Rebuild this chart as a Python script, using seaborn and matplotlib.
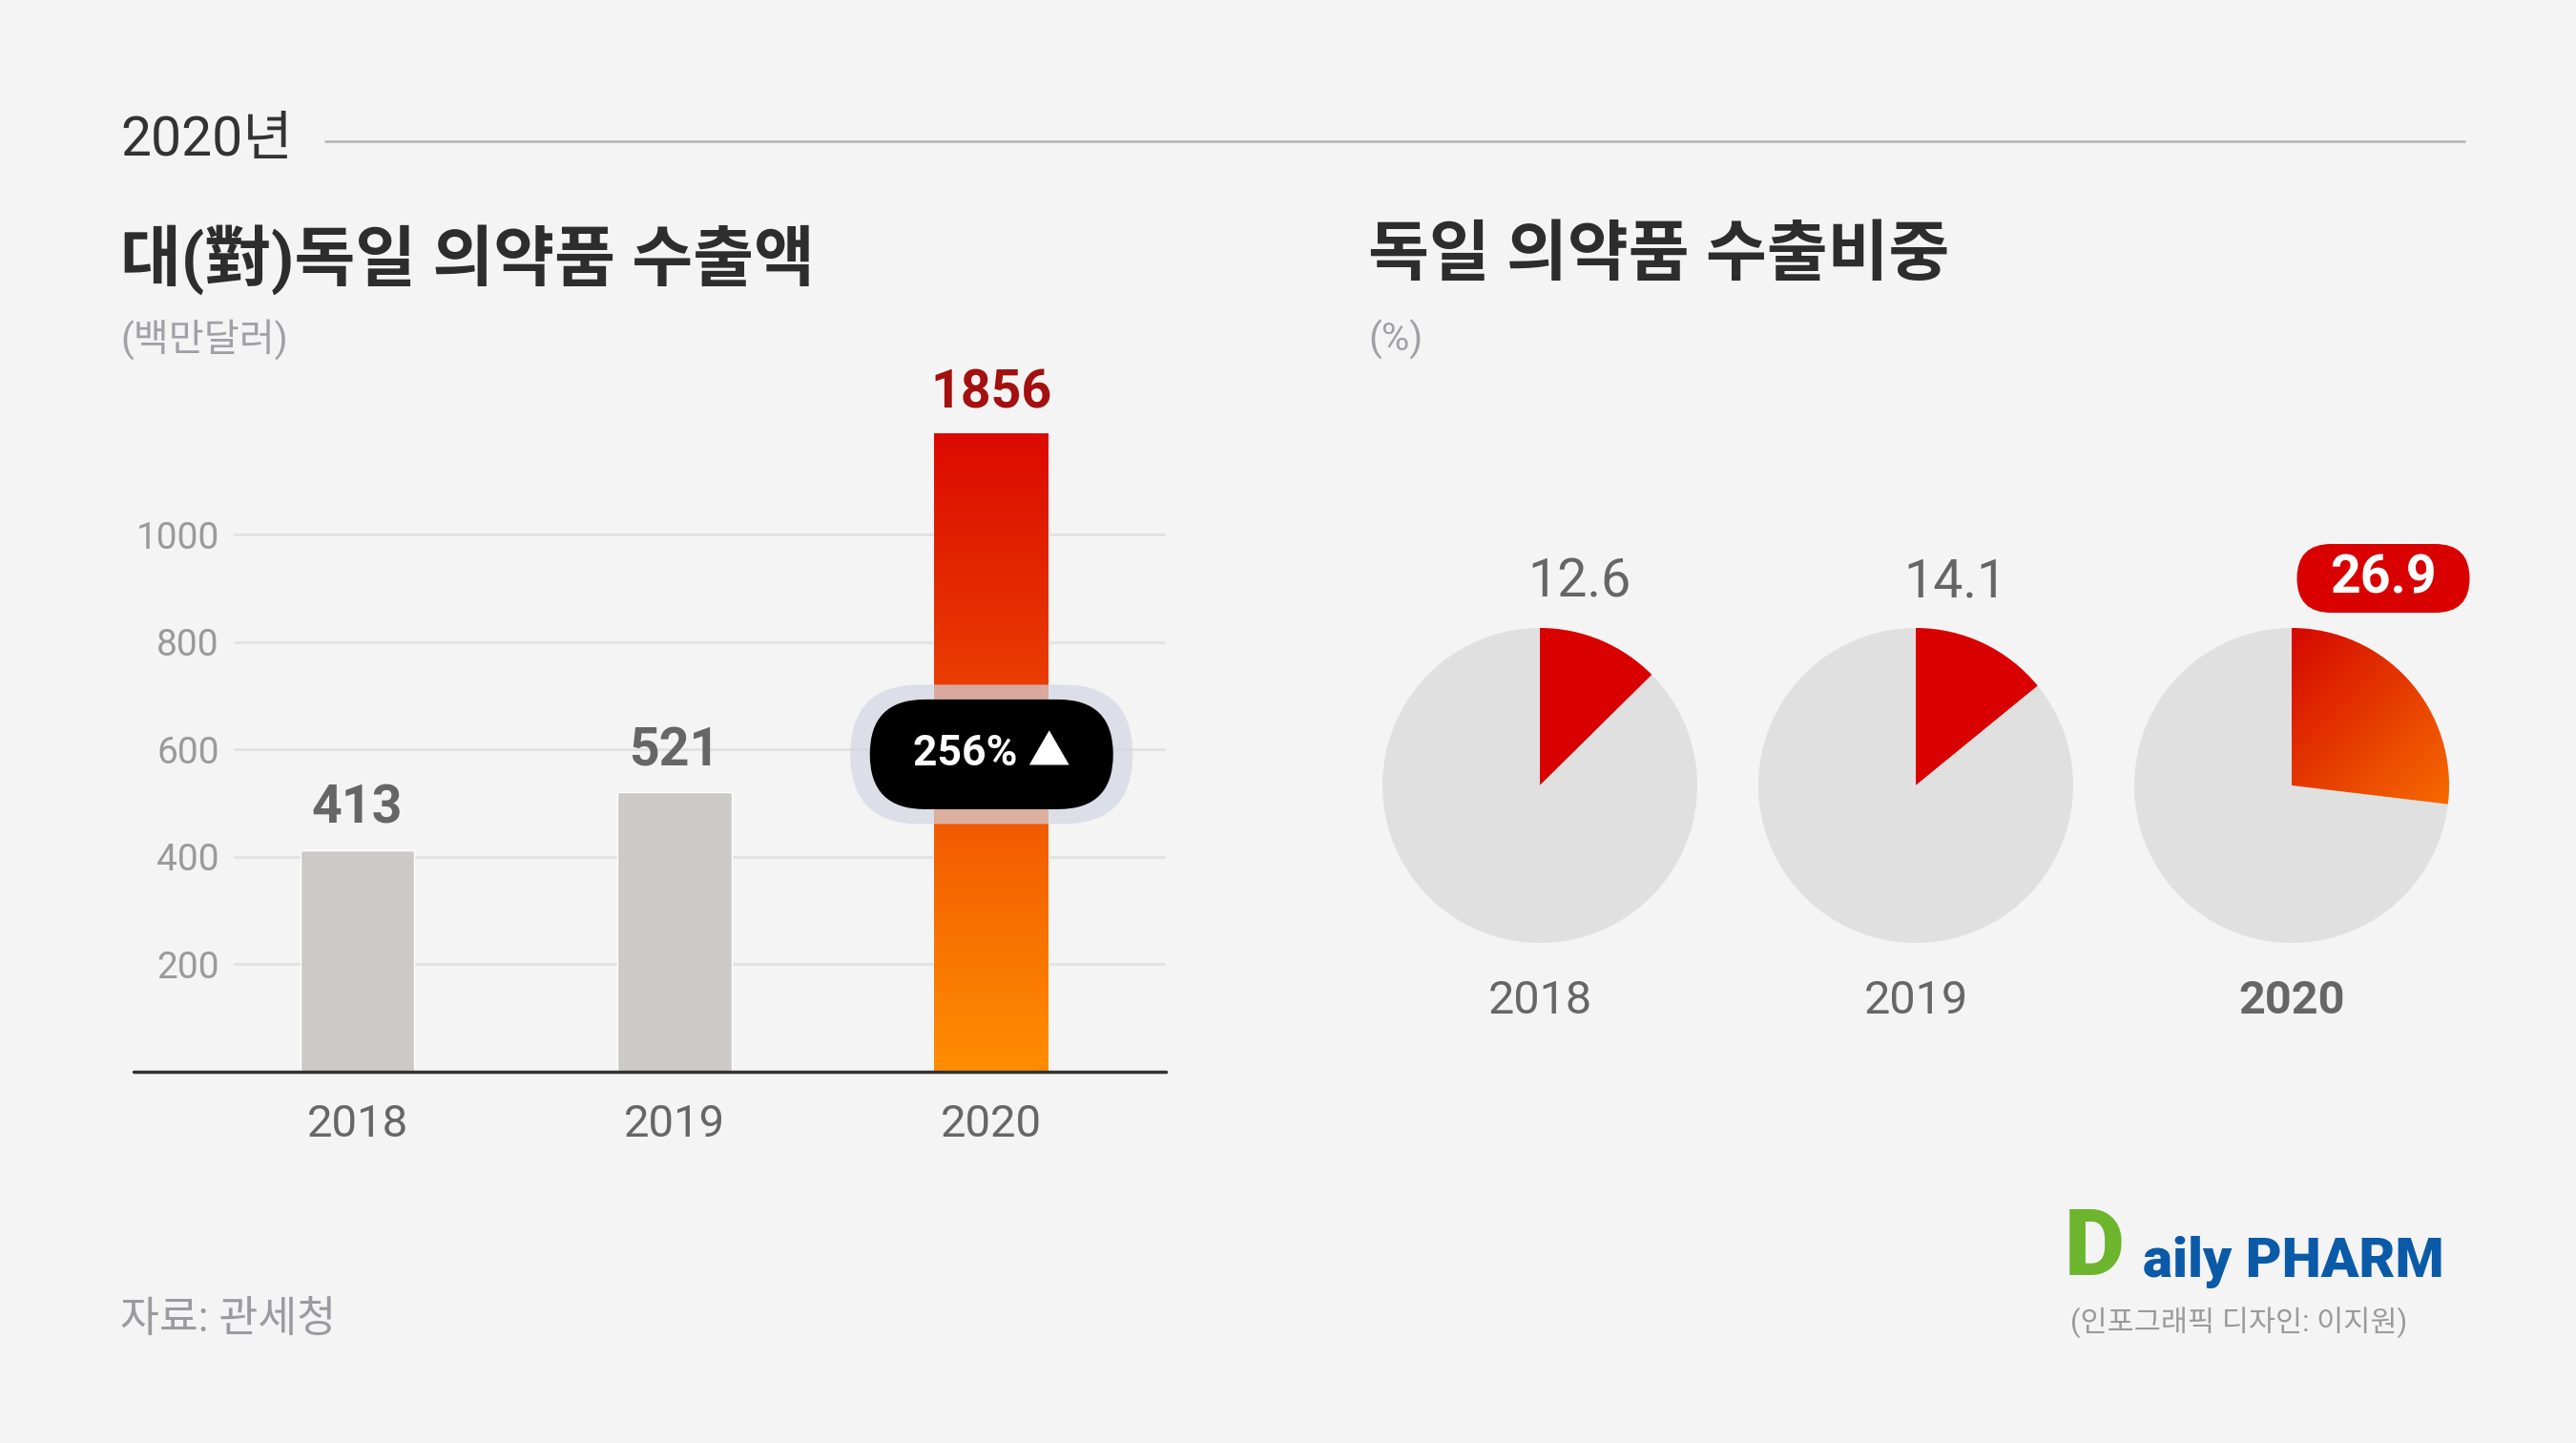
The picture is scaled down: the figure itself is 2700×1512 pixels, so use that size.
import matplotlib
matplotlib.use('Agg')
import matplotlib.pyplot as plt
import matplotlib.patches as mpatches
from matplotlib.lines import Line2D
from matplotlib.transforms import IdentityTransform
from matplotlib.colors import LinearSegmentedColormap
import seaborn as sns
import numpy as np
import pandas as pd

# data
years = ['2018', '2019', '2020']
export_musd = [413, 521, 1856]
share_pct = [12.6, 14.1, 26.9]
growth_label = '256% ▲'
yticks = [200, 400, 600, 800, 1000]

W, H = 2700, 1512
BG = '#f4f4f4'
GRAY_BAR = '#cbcac7'
RED = '#d90000'
hot = LinearSegmentedColormap.from_list('hot2', ['#dc0a00', '#ff8e00'])

sns.set_theme(style='white')
plt.rcParams['font.family'] = ['Roboto', 'Noto Sans CJK KR', 'DejaVu Sans']

fig = plt.figure(figsize=(27, 15.12), dpi=100, facecolor=BG)


def ftext(x, y, s, **kw):
    # x, y in pixels from top-left
    return fig.text(x / W, 1 - y / H, s, **kw)


def pill(cx, cy, w, h, color, alpha=1.0, z=5):
    # cx, cy in display pixels (origin bottom-left)
    p = mpatches.FancyBboxPatch((cx - w / 2, cy - h / 2), w, h,
                                boxstyle=f'round,pad=0,rounding_size={h / 2}',
                                transform=IdentityTransform(), facecolor=color,
                                edgecolor='none', alpha=alpha, zorder=z)
    fig.add_artist(p)


# header
ftext(126, 148, '2020년', fontsize=41, color='#333333', va='center')
fig.add_artist(Line2D([341 / W, 2583 / W], [1 - 148 / H] * 2, color='#b8b8b8', lw=2))

ftext(126, 272, '대(對)독일 의약품 수출액', fontsize=50, fontweight='bold', color='#2d2d2d', va='center')
ftext(126, 356, '(백만달러)', fontsize=29, color='#a0a0a6', va='center')
ftext(1434, 270, '독일 의약품 수출비중', fontsize=50, fontweight='bold', color='#2d2d2d', va='center')
ftext(1434, 356, '(%)', fontsize=29, color='#a0a0a6', va='center')

# bar chart
ax = fig.add_axes([245 / W, 1 - 1123 / H, (1222 - 245) / W, (1123 - 455) / H])
ax.set_facecolor('none')
df = pd.DataFrame({'year': years, 'value': export_musd})
sns.barplot(data=df, x='year', y='value', hue='year',
            palette=[GRAY_BAR, GRAY_BAR, '#e03000'], width=0.36,
            saturation=1, legend=False, ax=ax, zorder=2)
ax.set_xlim(-0.39, 2.55)
ax.set_ylim(0, 1187)
for y in yticks:
    ax.axhline(y, color='#e2e2e2', lw=2, zorder=0)
ax.axhline(0, xmin=(140 - 245) / 977, xmax=1, color='#333333', lw=2.5, clip_on=False, zorder=3)
ax.set_yticks(yticks)
ax.set_yticklabels([str(t) for t in yticks])
ax.tick_params(axis='y', length=0, pad=11, labelsize=28, labelcolor='#9a9a9a')
ax.tick_params(axis='x', length=0, pad=24, labelsize=34, labelcolor='#666666')
ax.set_xlabel('')
ax.set_ylabel('')
sns.despine(ax=ax, left=True, bottom=True)

top = ax.get_ylim()[1]
for i, (bar, val) in enumerate(zip(ax.patches, export_musd)):
    xc = bar.get_x() + bar.get_width() / 2
    ax.annotate(str(val), (xc, min(val, top)), xytext=(0, 12), textcoords='offset points',
                ha='center', va='bottom', fontsize=40, fontweight='bold',
                color='#a3100f' if i == 2 else '#666666', annotation_clip=False)
    if i == 2:
        bar.set_facecolor('none')
        grad = np.linspace(0, 1, 256).reshape(-1, 1)
        im = ax.imshow(grad, cmap=hot, aspect='auto', origin='upper',
                       extent=[bar.get_x(), bar.get_x() + bar.get_width(), 0, top], zorder=2)
        im.set_clip_path(bar)
ax.set_xlim(-0.39, 2.55)
ax.set_ylim(0, top)

# growth badge on the 2020 bar
bx, by = ax.transData.transform((2, 591))
pill(bx, by, 296, 146, '#d3d7e3', alpha=0.7, z=5)
pill(bx, by, 255, 115, '#000000', z=6)
fig.text(bx, by, growth_label, transform=IdentityTransform(), ha='center', va='center',
         fontsize=32, fontweight='bold', color='white', zorder=7)

# pies
pie_cx = [1614, 2008, 2402]
pie_cy = 823
R = 165
half = 230
lim = half / R
for i, (yr, v) in enumerate(zip(years, share_pct)):
    cx = pie_cx[i]
    axp = fig.add_axes([(cx - half) / W, (H - pie_cy - half) / H, 2 * half / W, 2 * half / H])
    wedges, _ = axp.pie([v, 100 - v], colors=[RED, '#e0e0e0'], startangle=90,
                        counterclock=False, radius=1, wedgeprops=dict(linewidth=0))
    axp.set_xlim(-lim, lim)
    axp.set_ylim(-lim, lim)
    axp.set_aspect('equal')
    axp.axis('off')
    axp.text(0, -1.37, yr, ha='center', va='center', fontsize=35, color='#666666',
             fontweight='bold' if i == 2 else 'normal')
    if i == 2:
        w = wedges[0]
        w.set_facecolor('none')
        xx = np.linspace(0, 1, 256)
        yy = np.linspace(-0.4, 1, 256)
        Z = xx[None, :] - yy[:, None]
        cmap_w = LinearSegmentedColormap.from_list('w', ['#d50800', '#fa7800'])
        im = axp.imshow(Z, cmap=cmap_w, origin='lower', extent=[0, 1, -0.4, 1],
                        vmin=-1, vmax=1.4, zorder=2)
        im.set_clip_path(w)
        axp.set_xlim(-lim, lim)
        axp.set_ylim(-lim, lim)
        pill(2498, H - 606, 181, 72, RED, z=6)
        fig.text(2498, H - 606, f'{v}', transform=IdentityTransform(), ha='center', va='center',
                 fontsize=40, fontweight='bold', color='white', zorder=7)
    else:
        axp.text(0.25, 1.29, f'{v}', ha='center', va='center', fontsize=40,
                 color='#666666')

# footer
ftext(126, 1383, '자료: 관세청', fontsize=32, color='#9a9aa0', va='center')
ftext(2164, 1310, 'D', fontsize=70, color='#6cb52d', fontweight='heavy', va='center')
ftext(2246, 1322, 'aily PHARM', fontsize=42, color='#0a5aa8', fontweight='heavy', va='center')
ftext(2170, 1386, '(인포그래픽 디자인: 이지원)', fontsize=22, color='#9a9a9a', va='center')

fig.savefig('out.png', dpi=100, facecolor=BG)
